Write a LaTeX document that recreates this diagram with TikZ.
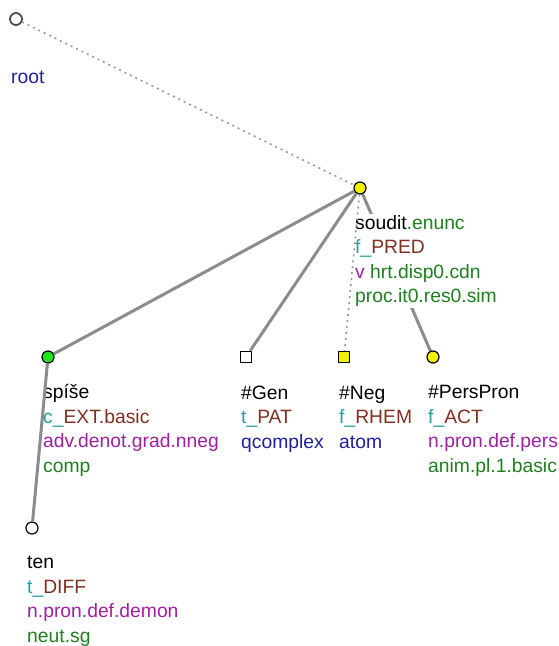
\documentclass[tikz,border=0pt]{standalone}
\usepackage{fontspec}
\setmainfont{Liberation Sans}
\definecolor{fnc}{RGB}{32,160,160}
\definecolor{brn}{RGB}{128,48,32}
\definecolor{prp}{RGB}{160,32,160}
\definecolor{grn}{RGB}{32,128,32}
\definecolor{blu}{RGB}{32,32,160}
\definecolor{ylw}{RGB}{240,240,0}
\definecolor{lgrn}{RGB}{30,230,30}

\begin{document}
\begin{tikzpicture}[x=1pt,y=-1pt,font=\fontsize{19.3}{24.5}\selectfont,
    tnode/.style={circle,draw=black,line width=1.2pt,inner sep=0pt,minimum size=12pt},
    tsquare/.style={rectangle,draw=black,line width=1.2pt,inner sep=0pt,minimum size=11.5pt},
    lbl/.style={anchor=base west,align=left,inner sep=1pt,fill=white},
    tedge/.style={draw=black!45,line width=3pt},
    dotedge/.style={draw=black!40,line width=1.6pt,dash pattern=on 2pt off 4pt}]
    \useasboundingbox (0,0) rectangle (558,646);

    \draw[tedge] (360,188) -- (433,357);

    % labels (placed at the baseline of their last line)
    \node[lbl] (lroot) at (10,83) {\textcolor{blu}{root}};
    \node[lbl] (lsoudit) at (354,302.5) {soudit\textcolor{grn}{.enunc}\\
        \textcolor{fnc}{f\_}\textcolor{brn}{PRED}\\
        \textcolor{prp}{v} \textcolor{grn}{hrt.disp0.cdn}\\
        \textcolor{grn}{proc.it0.res0.sim}};
    \node[lbl] (lspise) at (42,472) {spíše\\
        \textcolor{fnc}{c\_}\textcolor{brn}{EXT.basic}\\
        \textcolor{prp}{adv.denot.grad.nneg}\\
        \textcolor{grn}{comp}};
    \node[lbl] (lgen) at (240,448) {\#Gen\\
        \textcolor{fnc}{t\_}\textcolor{brn}{PAT}\\
        \textcolor{blu}{qcomplex}};
    \node[lbl] (lneg) at (338,448) {\#Neg\\
        \textcolor{fnc}{f\_}\textcolor{brn}{RHEM}\\
        \textcolor{blu}{atom}};
    \node[lbl] (lperspron) at (427,472) {\#PersPron\\
        \textcolor{fnc}{f\_}\textcolor{brn}{ACT}\\
        \textcolor{prp}{n.pron.def.pers}\\
        \textcolor{grn}{anim.pl.1.basic}};
    \node[lbl] (lten) at (26,642) {ten\\
        \textcolor{fnc}{t\_}\textcolor{brn}{DIFF}\\
        \textcolor{prp}{n.pron.def.demon}\\
        \textcolor{grn}{neut.sg}};

    % nodes
    \node[tnode,draw=black!70,line width=1.8pt,fill=white] (root) at (16,19) {};
    \node[tnode,fill=ylw] (soudit) at (360,188) {};
    \node[tnode,fill=lgrn] (spise) at (48,357) {};
    \node[tsquare,fill=white] (gen) at (246,357) {};
    \node[tsquare,fill=ylw] (neg) at (344,357) {};
    \node[tnode,fill=ylw] (perspron) at (433,357) {};
    \node[tnode,fill=white] (ten) at (32,528) {};

    % edges
    \draw[dotedge] (root) -- (soudit);
    \draw[tedge] (soudit) -- (spise);
    \draw[tedge] (soudit) -- (gen);
    \draw[dotedge] (soudit) -- (neg);
    \draw[tedge] (spise) -- (ten);
\end{tikzpicture}
\end{document}
